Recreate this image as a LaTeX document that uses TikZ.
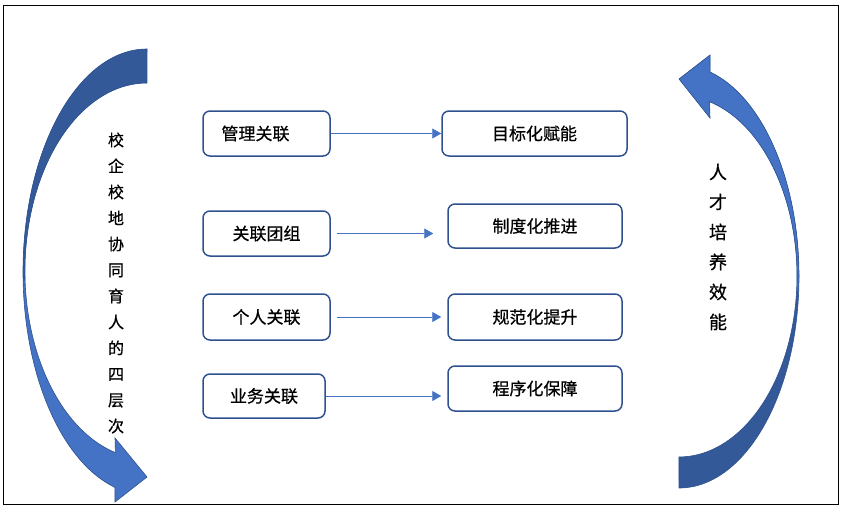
\documentclass[tikz,border=0pt]{standalone}
\usepackage{fontspec}
\setmainfont[FakeBold=0.6]{Noto Sans CJK SC}
\usepackage{xcolor}
\usetikzlibrary{arrows.meta, positioning}
\definecolor{arrowdark}{RGB}{52, 89, 152}
\definecolor{arrowlight}{RGB}{68, 114, 196}
\definecolor{boxline}{RGB}{47, 82, 143}

% outlines of the two curved arrows
\newcommand{\leftbendpath}{(147,-49) arc[start angle=90, end angle=255, x radius=124, y radius=223]
    -- (115,-502) -- (147,-477) -- (115,-438) -- (115.4,-452.6)
    arc[start angle=255, end angle=90, x radius=122, y radius=188] -- cycle}
\newcommand{\rightbendpath}{(679,-488) arc[start angle=270, end angle=435, x radius=120, y radius=211.6]
    -- (710,-55) -- (679,-79) -- (710,-118) -- (709.5,-101.7)
    arc[start angle=435, end angle=270, x radius=118, y radius=180.7] -- cycle}

\begin{document}
\begin{tikzpicture}[x=1pt, y=1pt, >={Triangle[length=9pt, width=10pt]},
    relbox/.style={rectangle, draw=boxline, fill=white, line width=1.5pt, rounded corners=7pt, inner sep=0pt, font=\fontsize{17}{20}\selectfont},
    link/.style={->, color=arrowlight, line width=0.8pt},
    bigarrow/.style={draw=boxline, line width=0.6pt},
    sidetext/.style={align=center, inner sep=0pt}]

    \useasboundingbox (0,0) rectangle (843,-511);
    \draw[line width=0.8pt] (3,-5) rectangle (838,-504);

    % Curved arrows
    \fill[arrowlight] \leftbendpath;
    \begin{scope}
        \clip (0,0) rectangle (843,-280);
        \fill[arrowdark] \leftbendpath;
    \end{scope}
    \draw[bigarrow] \leftbendpath;

    \fill[arrowdark] \rightbendpath;
    \begin{scope}
        \clip (0,0) rectangle (843,-290);
        \fill[arrowlight] \rightbendpath;
    \end{scope}
    \draw[bigarrow] \rightbendpath;

    % Side texts
    \node[sidetext, font=\fontsize{16}{26}\selectfont] (levels) at (116,-283) {校\\企\\校\\地\\协\\同\\育\\人\\的\\四\\层\\次};
    \node[sidetext, font=\fontsize{18}{30}\selectfont] (efficacy) at (718,-247) {人\\才\\培\\养\\效\\能};

    % Relations and results
    \node[relbox, minimum width=127pt, minimum height=45pt] (mgmt) at (266.5,-133.5) {\makebox[90pt][l]{管理关联}};
    \node[relbox, minimum width=185pt, minimum height=45pt] (goal) at (534.5,-133.5) {目标化赋能};

    \node[relbox, minimum width=127pt, minimum height=45pt] (team) at (266.5,-233.5) {关联团组};
    \node[relbox, minimum width=174pt, minimum height=44pt] (system) at (535,-226) {制度化推进};

    \node[relbox, minimum width=127pt, minimum height=46pt] (person) at (266.5,-317) {个人关联};
    \node[relbox, minimum width=174pt, minimum height=46pt] (norm) at (535,-317) {规范化提升};

    \node[relbox, minimum width=122pt, minimum height=44pt] (business) at (264,-396) {业务关联};
    \node[relbox, minimum width=174pt, minimum height=45pt] (process) at (535,-388.5) {程序化保障};

    % Links
    \draw[link] (mgmt.east) -- (goal.west);
    \draw[link, shorten <=6pt, shorten >=14pt] (team.east) -- (team.east -| system.west);
    \draw[link, shorten <=6pt, shorten >=6pt] (person.east) -- (norm.west);
    \draw[link, shorten >=6pt] (business.east) -- (business.east -| process.west);
\end{tikzpicture}
\end{document}
